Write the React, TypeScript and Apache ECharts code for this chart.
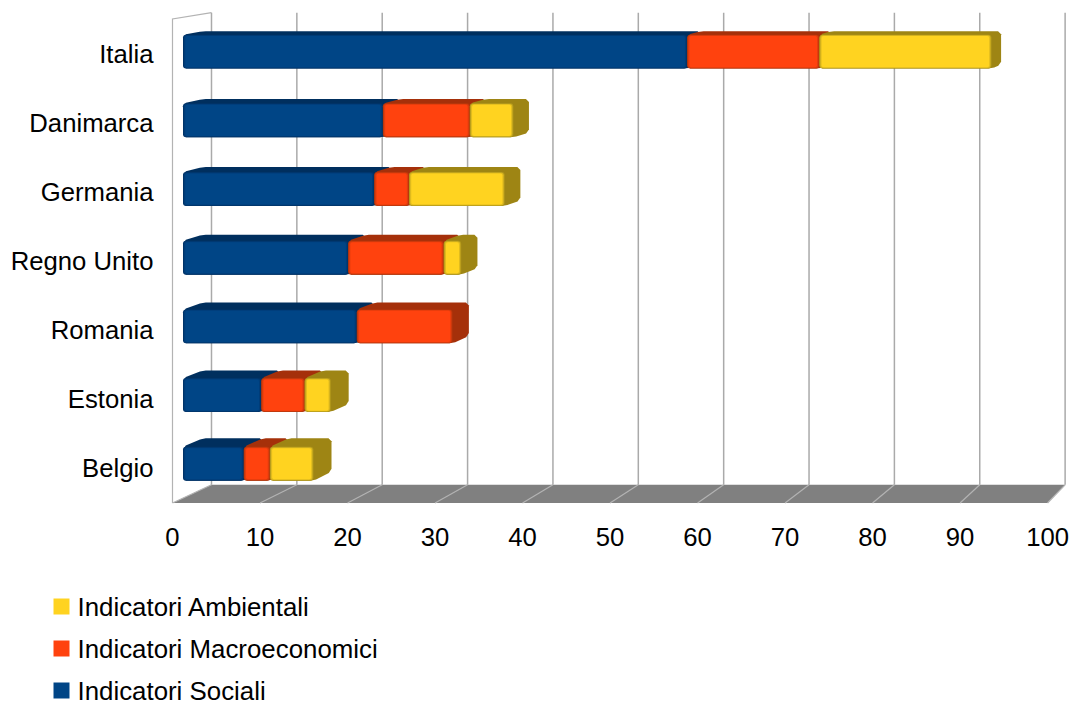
import React, { useEffect, useRef } from "react";
import * as echarts from "echarts";

// Categories run bottom-to-top on the value chart.
const countries = ["Belgio", "Estonia", "Romania", "Regno Unito", "Germania", "Danimarca", "Italia"];
const sociali = [7, 9, 20, 19, 22, 23, 58];
const macroeconomici = [3, 5, 11, 11, 4, 10, 15.2];
const ambientali = [5, 3, 0, 2, 11, 5, 19.8];
const xTicks = [0, 10, 20, 30, 40, 50, 60, 70, 80, 90, 100];

const FONT = "'Liberation Sans', Arial, sans-serif";
const FONT_SIZE = 25.7;

// One-point perspective used for the pseudo-3D box look.
const VP = [1764, -240];
const S_WALL = 0.0245;
const S_FRONT = 0.0066;
const S_BACK = 0.019;
const project = (p: number[], s: number) => [p[0] + s * (VP[0] - p[0]), p[1] + s * (VP[1] - p[1])];

// Cuts each polygon corner so the outline reads as rounded.
function chamfer(pts: number[][], r: number) {
  const out: number[][] = [];
  const n = pts.length;
  for (let i = 0; i < n; i++) {
    const p = pts[i];
    const a = pts[(i + n - 1) % n];
    const b = pts[(i + 1) % n];
    const la = Math.hypot(a[0] - p[0], a[1] - p[1]) || 1;
    const lb = Math.hypot(b[0] - p[0], b[1] - p[1]) || 1;
    const ra = Math.min(r, la / 2);
    const rb = Math.min(r, lb / 2);
    out.push([p[0] + ((a[0] - p[0]) * ra) / la, p[1] + ((a[1] - p[1]) * ra) / la]);
    out.push([p[0] + ((b[0] - p[0]) * rb) / lb, p[1] + ((b[1] - p[1]) * rb) / lb]);
  }
  return out;
}

function frameItem(_params: any, api: any) {
  const v = api.value(0);
  const y0 = api.coord([0, 0])[1] + api.size([0, 1])[1] / 2;
  const yTop = y0 - api.size([0, 1])[1] * countries.length;
  const x = api.coord([v, 0])[0];
  const bottom = project([x, y0], S_WALL);
  const top = project([x, yTop], S_WALL);
  const children: any[] = [];
  if (v === 0) {
    const right = api.coord([100, 0])[0];
    children.push({
      type: "polygon",
      shape: { points: [[x, y0], [right, y0], project([right, y0], S_WALL), bottom] },
      style: { fill: "#808080" },
    });
    children.push({ type: "polyline", shape: { points: [[x, y0], [x, yTop], top] }, style: { fill: "none", stroke: "#b3b3b3", lineWidth: 1.2 } });
  }
  children.push({ type: "line", shape: { x1: x, y1: y0, x2: bottom[0], y2: bottom[1] }, style: { stroke: "#b3b3b3", lineWidth: 1.2 } });
  children.push({ type: "line", shape: { x1: bottom[0], y1: bottom[1], x2: top[0], y2: top[1] }, style: { stroke: "#aaaaaa", lineWidth: 1.5 } });
  return { type: "group", children };
}

// Builds one stacked box: dark silhouette for top and side, then a bevelled front.
function boxItem(colors: string[]) {
  return (_params: any, api: any) => {
    const cat = api.value(0);
    const start = api.value(1);
    const end = api.value(2);
    if (!(end > start)) return null;
    const half = api.size([0, 1])[1] * 0.247;
    const a = api.coord([start, cat]);
    const b = api.coord([end, cat]);
    const fl = project([a[0], a[1] - half], S_FRONT);
    const fr = project([b[0], a[1] + half], S_FRONT);
    const bl = project([a[0], a[1] - half], S_BACK);
    const br = project([b[0], a[1] - half], S_BACK);
    const brb = project([b[0], a[1] + half], S_BACK);
    const w = fr[0] - fl[0];
    const h = fr[1] - fl[1];
    const inset = (dx: number, dy: number, fill: string, r: number) => ({
      type: "rect",
      shape: { x: fl[0] + dx, y: fl[1] + dy, width: w - 2 * dx, height: h - 2 * dy, r },
      style: { fill },
    });
    return {
      type: "group",
      children: [
        { type: "polygon", shape: { points: chamfer([[fl[0], fl[1]], bl, br, brb, [fr[0], fr[1]], [fl[0], fr[1]]], 3) }, style: { fill: colors[0] } },
        inset(0, 0, colors[1], 3),
        inset(1, 0.7, colors[2], 2.5),
        inset(2.2, 1.4, colors[3], 2),
      ],
    };
  };
}

function stackData() {
  return countries.map((_, i) => {
    const s1 = sociali[i];
    const s2 = s1 + macroeconomici[i];
    const s3 = s2 + ambientali[i];
    return { blue: [i, 0, s1], orange: [i, s1, s2], yellow: [i, s2, s3] };
  });
}

export default function App() {
  const ref = useRef<HTMLDivElement>(null);
  useEffect(() => {
    const chart = echarts.init(ref.current!, undefined, { renderer: "svg" });
    const rows = stackData();
    chart.setOption({
      animation: false,
      backgroundColor: "#ffffff",
      textStyle: { fontFamily: FONT },
      grid: { left: 172.5, top: 19, width: 877.5, height: 484, containLabel: false },
      xAxis: {
        type: "value",
        min: 0,
        max: 100,
        interval: 10,
        axisLine: { show: false },
        axisTick: { show: false },
        splitLine: { show: false },
        axisLabel: { color: "#000000", fontSize: FONT_SIZE, fontFamily: FONT, margin: 21 },
      },
      yAxis: {
        type: "category",
        data: countries,
        axisLine: { show: false },
        axisTick: { show: false },
        splitLine: { show: false },
        axisLabel: { color: "#000000", fontSize: FONT_SIZE, fontFamily: FONT, margin: 19 },
      },
      legend: {
        orient: "vertical",
        left: 53.5,
        top: 593.5,
        height: 130,
        padding: 0,
        itemWidth: 16,
        itemHeight: 16,
        itemGap: 16,
        icon: "rect",
        data: ["Indicatori Ambientali", "Indicatori Macroeconomici", "Indicatori Sociali"],
        textStyle: { color: "#000000", fontSize: 25.85, fontFamily: FONT, padding: [0, 0, 0, 3] },
      },
      series: [
        {
          type: "custom",
          name: "frame",
          silent: true,
          coordinateSystem: "cartesian2d",
          renderItem: frameItem,
          encode: { x: 0 },
          data: xTicks.map((t) => [t]),
        },
        {
          type: "custom",
          name: "Indicatori Sociali",
          itemStyle: { color: "#004586" },
          renderItem: boxItem(["#002f5e", "#00346a", "#003d78", "#004586"]),
          encode: { x: 2, y: 0 },
          data: rows.map((r) => r.blue),
        },
        {
          type: "custom",
          name: "Indicatori Macroeconomici",
          itemStyle: { color: "#ff420e" },
          renderItem: boxItem(["#a5300a", "#b8370c", "#e03c0d", "#ff420e"]),
          encode: { x: 2, y: 0 },
          data: rows.map((r) => r.orange),
        },
        {
          type: "custom",
          name: "Indicatori Ambientali",
          itemStyle: { color: "#ffd320" },
          renderItem: boxItem(["#9e8514", "#b49a1c", "#e0bb1e", "#ffd320"]),
          encode: { x: 2, y: 0 },
          data: rows.map((r) => r.yellow),
        },
      ],
    });
    return () => chart.dispose();
  }, []);
  return <div ref={ref} style={{ position: "fixed", left: 0, top: 0, width: 1072, height: 701 }} />;
}
